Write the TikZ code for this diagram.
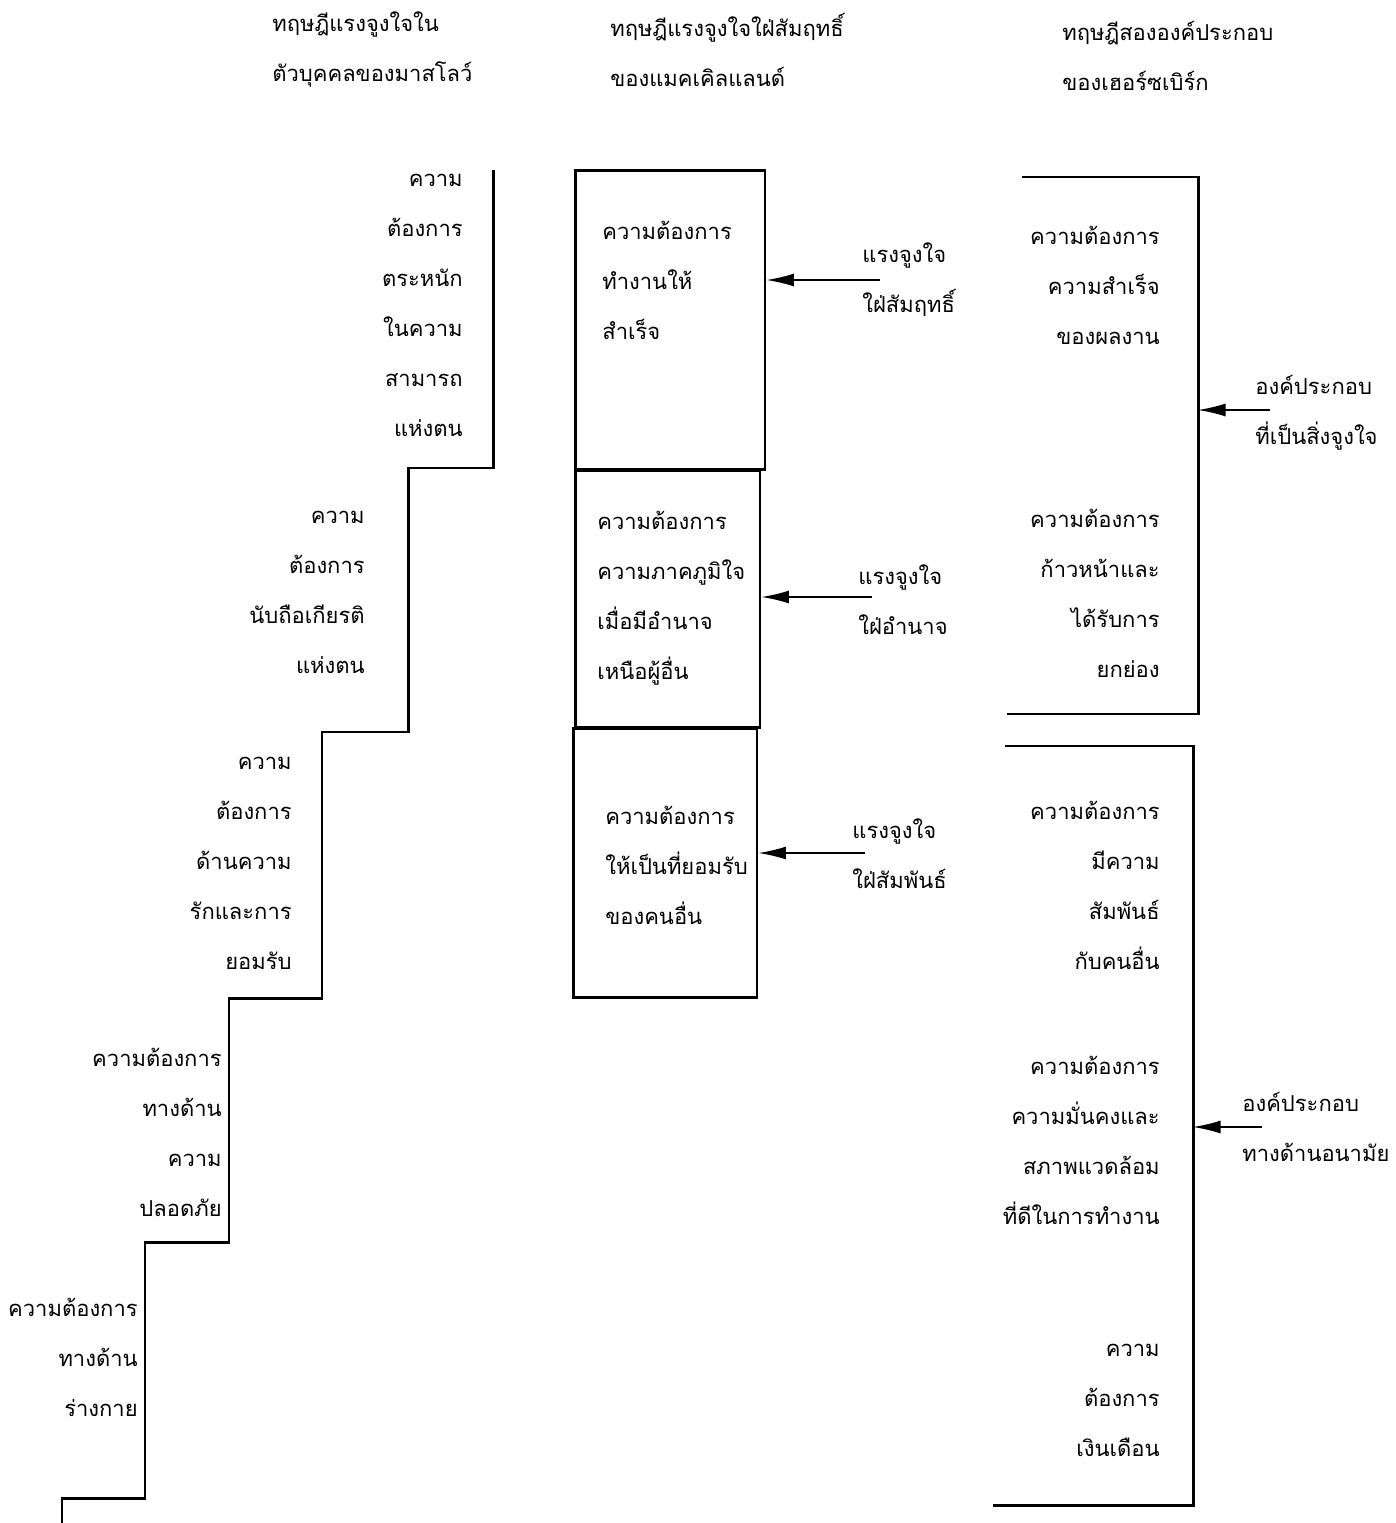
\documentclass[tikz,border=0pt]{standalone}
\usepackage{fontspec}
\newfontfamily\thaifont[Script=Thai]{Loma}
\usetikzlibrary{arrows.meta}

\begin{document}
\begin{tikzpicture}[x=0.02cm, y=-0.02cm,
  font={\thaifont\fontsize{12.5}{28.45}\selectfont},
  stair/.style={line width=1.7pt, line join=miter},
  needbox/.style={draw, line width=1.7pt, inner sep=0pt},
  needtext/.style={inner sep=0pt, align=right, anchor=east},
  boxtext/.style={inner sep=0pt, align=left, anchor=west},
  sidelabel/.style={inner sep=0pt, align=left, anchor=west},
  motarrow/.style={line width=0.9pt, -{Latex[length=5.5mm,width=2.6mm]}},
  title/.style={inner sep=0pt, align=left, anchor=west}]

  \useasboundingbox (0,0) rectangle (1395,1523);

  % -------------------------------------------------------
  % Titles of the three theories
  % -------------------------------------------------------
  \node[title] (tmaslow) at (272,50) {ทฤษฎีแรงจูงใจใน\\ตัวบุคคลของมาสโลว์};
  \node[title] (tmcc)    at (610,50) {ทฤษฎีแรงจูงใจใฝ่สัมฤทธิ์\\ของแมคเคิลแลนด์};
  \node[title] (therz)   at (1062,56) {ทฤษฎีสององค์ประกอบ\\ของเฮอร์ซเบิร์ก};

  % -------------------------------------------------------
  % Maslow : staircase of needs
  % -------------------------------------------------------
  \draw[stair] (493,170) -- (493,468) -- (408,468) -- (408,732)
    -- (322,732) -- (322,998) -- (229,998) -- (229,1242)
    -- (145,1242) -- (145,1498) -- (62,1498) -- (62,1523);

  \node[needtext] (mself)   at (463,305)  {ความ\\ต้องการ\\ตระหนัก\\ในความ\\สามารถ\\แห่งตน};
  \node[needtext] (mesteem) at (365,592)  {ความ\\ต้องการ\\นับถือเกียรติ\\แห่งตน};
  \node[needtext] (mlove)   at (292,863)  {ความ\\ต้องการ\\ด้านความ\\รักและการ\\ยอมรับ};
  \node[needtext] (msafe)   at (222,1132) {ความต้องการ\\ทางด้าน\\ความ\\ปลอดภัย};
  \node[needtext] (mbody)   at (138,1357) {ความต้องการ\\ทางด้าน\\ร่างกาย};

  % -------------------------------------------------------
  % McClelland : three stacked boxes
  % -------------------------------------------------------
  \node[needbox, minimum width=3.8cm, minimum height=6cm]    (bach)  at (670,320) {};
  \node[needbox, minimum width=3.7cm, minimum height=5.16cm] (bpow)  at (667.5,599) {};
  \node[needbox, minimum width=3.68cm, minimum height=5.4cm] (baff)  at (665,863) {};

  \node[boxtext] (tach) at (602,280) {ความต้องการ\\ทำงานให้\\สำเร็จ};
  \node[boxtext] (tpow) at (597,598) {ความต้องการ\\ความภาคภูมิใจ\\เมื่อมีอำนาจ\\เหนือผู้อื่น};
  \node[boxtext] (taff) at (605,865) {ความต้องการ\\ให้เป็นที่ยอมรับ\\ของคนอื่น};

  \node[sidelabel] (lach) at (862,280) {แรงจูงใจ\\ใฝ่สัมฤทธิ์};
  \node[sidelabel] (lpow) at (858,600) {แรงจูงใจ\\ใฝ่อำนาจ};
  \node[sidelabel] (laff) at (852,854) {แรงจูงใจ\\ใฝ่สัมพันธ์};

  \coordinate (tailach) at (880,280);
  \coordinate (tailpow) at (872,597);
  \coordinate (tailaff) at (865,853);
  \draw[motarrow] (tailach) -- (bach.east |- tailach);
  \draw[motarrow] (tailpow) -- (bpow.east |- tailpow);
  \draw[motarrow] (tailaff) -- (baff.east |- tailaff);

  % -------------------------------------------------------
  % Herzberg : two brackets of factors
  % -------------------------------------------------------
  \coordinate (hzAtop) at (1198,177);
  \coordinate (hzAbot) at (1198,714);
  \draw[stair] (1022,177) -- (hzAtop) -- (hzAbot) -- (1007,714);

  \coordinate (hzBtop) at (1193,746);
  \coordinate (hzBbot) at (1193,1505);
  \draw[stair] (1005,746) -- (hzBtop) -- (hzBbot) -- (993,1505);

  \node[needtext] (hwork)   at (1160,285)  {ความต้องการ\\ความสำเร็จ\\ของผลงาน};
  \node[needtext] (hgrow)   at (1160,593)  {ความต้องการ\\ก้าวหน้าและ\\ได้รับการ\\ยกย่อง};
  \node[needtext] (hrel)    at (1160,885)  {ความต้องการ\\มีความ\\สัมพันธ์\\กับคนอื่น};
  \node[needtext] (hsecure) at (1160,1140) {ความต้องการ\\ความมั่นคงและ\\สภาพแวดล้อม\\ที่ดีในการทำงาน};
  \node[needtext] (hpay)    at (1160,1400) {ความ\\ต้องการ\\เงินเดือน};

  \node[sidelabel] (lmotiv) at (1255,413)  {องค์ประกอบ\\ที่เป็นสิ่งจูงใจ};
  \node[sidelabel] (lhyg)   at (1242,1127) {องค์ประกอบ\\ทางด้านอนามัย};

  \coordinate (tailmotiv) at (1270,410);
  \coordinate (tailhyg)   at (1262,1127);
  \draw[motarrow] (tailmotiv) -- (hzAtop |- tailmotiv);
  \draw[motarrow] (tailhyg) -- (hzBtop |- tailhyg);

\end{tikzpicture}
\end{document}
